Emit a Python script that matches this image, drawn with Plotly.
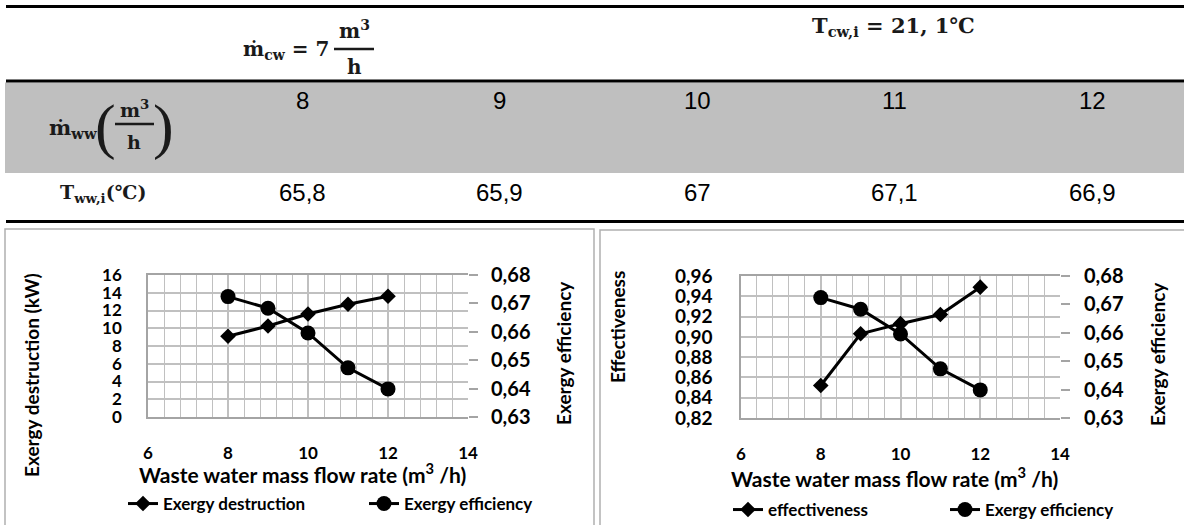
import plotly.graph_objects as go

# ---------------- data ----------------
flow = [8, 9, 10, 11, 12]                       # waste water mass flow rate (m3/h)
t_ww_in = [65.8, 65.9, 67, 67.1, 66.9]          # waste water inlet temperature (degC)
exergy_destruction = [9.1, 10.25, 11.6, 12.7, 13.6]      # kW
exergy_efficiency = [0.6724, 0.6683, 0.6596, 0.6473, 0.6399]
effectiveness = [0.852, 0.903, 0.913, 0.922, 0.949]

x_ticks = [6, 8, 10, 12, 14]

W, H = 1184, 525


def px(x):
    return x / W


def py(y):
    return 1 - y / H


GRID = "#c0c0c0"
AXL = "#a4a4a4"
LAB = dict(family="Lato", size=17, color="black", weight="bold")
SERIF = dict(family="DejaVu Serif", size=20, color="#1a1a1a", weight="bold")
NUM = dict(family="Liberation Sans", size=24, color="black")

fig = go.Figure()

line_style = dict(color="black", width=3)
fig.add_trace(go.Scatter(x=flow, y=exergy_destruction, name="Exergy destruction",
                         mode="lines+markers", line=line_style,
                         marker=dict(symbol="diamond", size=12, color="black"),
                         xaxis="x", yaxis="y", legend="legend"))
fig.add_trace(go.Scatter(x=flow, y=exergy_efficiency, name="Exergy efficiency",
                         mode="lines+markers", line=line_style,
                         marker=dict(symbol="circle", size=15, color="black"),
                         xaxis="x", yaxis="y2", legend="legend"))
fig.add_trace(go.Scatter(x=flow, y=effectiveness, name="effectiveness",
                         mode="lines+markers", line=line_style,
                         marker=dict(symbol="diamond", size=12, color="black"),
                         xaxis="x2", yaxis="y3", legend="legend2"))
fig.add_trace(go.Scatter(x=flow, y=exergy_efficiency, name="Exergy efficiency",
                         mode="lines+markers", line=line_style,
                         marker=dict(symbol="circle", size=15, color="black"),
                         xaxis="x2", yaxis="y4", legend="legend2"))


def xax(dom, anchor):
    return dict(domain=dom, anchor=anchor, range=[6, 14], tickvals=x_ticks,
                showgrid=True, gridcolor=GRID, gridwidth=1.5,
                minor=dict(dtick=0.4, tick0=6, showgrid=True, gridcolor=GRID, gridwidth=1.2),
                showline=True, linecolor=AXL, linewidth=1.5, mirror=True,
                zeroline=False, ticks="", tickfont=LAB, ticklabelstandoff=20,
                automargin=False, fixedrange=True)


def yleft(dom, anchor, rng, dtick, fmt, size, standoff):
    return dict(domain=dom, anchor=anchor, range=rng, dtick=dtick, tickformat=fmt,
                showgrid=True, gridcolor=GRID, gridwidth=1.5, zeroline=False,
                showline=True, linecolor=AXL, linewidth=1.5, ticks="",
                tickfont=dict(LAB, size=size), ticklabelstandoff=standoff,
                automargin=False, fixedrange=True)


def yright(overlay, anchor, size, standoff):
    return dict(overlaying=overlay, anchor=anchor, side="right", range=[0.63, 0.68],
                dtick=0.01, tickformat=".2f", showgrid=False, zeroline=False,
                showline=False, ticks="outside", ticklen=9, tickwidth=1.5, tickcolor=AXL,
                tickfont=dict(LAB, size=size), ticklabelstandoff=standoff,
                automargin=False, fixedrange=True)


ydom1 = [py(417), py(275)]
ydom2 = [py(418), py(276)]

# table axis: columns placed at their flow value
col_px8, col_step = 302, 197.5
t0 = flow[0] - col_px8 / col_step
t1 = t0 + W / col_step

fig.update_layout(
    width=W, height=H, margin=dict(l=0, r=0, t=0, b=0, autoexpand=False),
    paper_bgcolor="white", plot_bgcolor="white", separators=", ",
    showlegend=True,
    xaxis=xax([px(148), px(468)], "y"),
    yaxis=yleft(ydom1, "x", [0, 16], 2, "d", 17, 21),
    yaxis2=yright("y", "x", 20, 9),
    xaxis2=xax([px(741), px(1060)], "y3"),
    yaxis3=yleft(ydom2, "x2", [0.82, 0.96], 0.02, ".2f", 19, 23),
    yaxis4=yright("y3", "x2", 20, 10),
    xaxis3=dict(domain=[0, 1], anchor="y5", range=[t0, t1], visible=False, fixedrange=True),
    yaxis5=dict(domain=[py(225), 1], anchor="x3", range=[225, 0], visible=False, fixedrange=True),
    legend=dict(orientation="h", x=px(123), xanchor="left", y=py(504), yanchor="middle",
                font=dict(LAB, size=17), bgcolor="rgba(0,0,0,0)", itemwidth=30,
                entrywidth=196, traceorder="normal"),
    legend2=dict(orientation="h", x=px(728), xanchor="left", y=py(510), yanchor="middle",
                 font=dict(LAB, size=17), bgcolor="rgba(0,0,0,0)", itemwidth=30,
                 entrywidth=172, traceorder="normal"),
)

shapes = []
# panel borders
shapes.append(dict(type="rect", xref="paper", yref="paper", x0=px(5), x1=px(594),
                   y0=py(535), y1=py(229), line=dict(color="#b0b0b0", width=1.5)))
shapes.append(dict(type="rect", xref="paper", yref="paper", x0=px(600), x1=px(1195),
                   y0=py(535), y1=py(230), line=dict(color="#b0b0b0", width=1.5)))
# table gray band and rules
shapes.append(dict(type="rect", xref="paper", yref="y5", x0=px(5), x1=1, y0=82.5, y1=173,
                   fillcolor="#bfbfbf", line=dict(width=0), layer="below"))
for yy in (6.5, 81, 221.5):
    shapes.append(dict(type="line", xref="paper", yref="y5", x0=px(6), x1=1, y0=yy, y1=yy,
                       line=dict(color="black", width=3)))
# fraction bars
shapes.append(dict(type="line", xref="paper", yref="y5", x0=px(334), x1=px(374), y0=49, y1=49,
                   line=dict(color="#1a1a1a", width=2.5)))
shapes.append(dict(type="line", xref="paper", yref="y5", x0=px(115), x1=px(154), y0=124, y1=124,
                   line=dict(color="#1a1a1a", width=2.5)))

ann = []


def A(text, x, y, font, xref="paper", yref="y5", xanchor="center", angle=0):
    ann.append(dict(text=text, x=x, y=y, xref=xref, yref=yref, xanchor=xanchor,
                    yanchor="middle", showarrow=False, font=font, textangle=angle))


# table header
A("ṁ<sub>cw</sub> = 7", px(331), 50, SERIF, xanchor="right")
A("m<sup>3</sup>", px(354), 30, SERIF)
A("h", px(354), 67, SERIF)
A("T<sub>cw,i</sub> = 21, 1℃", px(893), 26, dict(SERIF, size=21))
# row labels
A("ṁ<sub>ww</sub>", px(99), 128, dict(SERIF, size=21), xanchor="right")
A("(", px(105), 126, dict(family="Liberation Serif", size=62, color="#1a1a1a"))
A("m<sup>3</sup>", px(134), 109, dict(SERIF, size=19))
A("h", px(134), 142, dict(SERIF, size=19))
A(")", px(163), 126, dict(family="Liberation Serif", size=62, color="#1a1a1a"))
A("T<sub>ww,i</sub>(℃)", px(103), 193, dict(SERIF, size=19))
# table cells
for f, t in zip(flow, t_ww_in):
    A(str(f), f, 100, NUM, xref="x3")
    A(f"{t:g}".replace(".", ","), f, 192, NUM, xref="x3")

# chart titles
TT = dict(LAB, size=19)
A("Exergy destruction (kW)", px(31), py(375), TT, yref="paper", angle=-90)
A("Exergy efficiency", px(563), py(353), TT, yref="paper", angle=-90)
A("Waste water mass flow rate (m<sup>3</sup> /h)", px(302), py(473), dict(LAB, size=21), yref="paper")
A("Effectiveness", px(617), py(327), TT, yref="paper", angle=-90)
A("Exergy efficiency", px(1157), py(354), TT, yref="paper", angle=-90)
A("Waste water mass flow rate (m<sup>3</sup> /h)", px(894), py(477), dict(LAB, size=21), yref="paper")

fig.update_layout(shapes=shapes, annotations=ann)
fig.write_html("out.html")
